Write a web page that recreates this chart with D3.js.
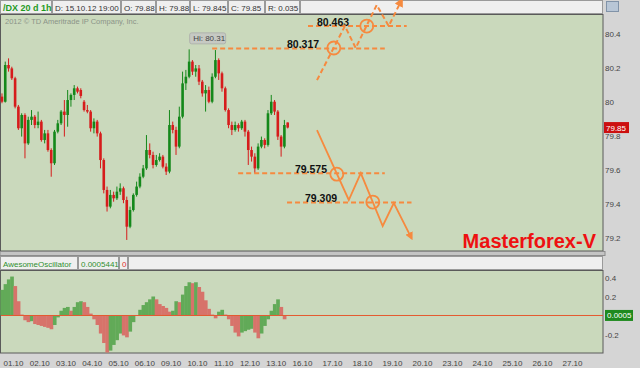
<!DOCTYPE html>
<html>
<head>
<meta charset="utf-8">
<script src="https://cdn.jsdelivr.net/npm/d3@7"></script>
<style>
  body { margin: 0; background: #d5d5d5; }
  svg { display: block; font-family: "Liberation Sans", Arial, sans-serif; }
</style>
</head>
<body>
<svg id="chart" width="640" height="368"></svg>
<script>
// candles, one every 3 hours
var opens = [80.032,80.002,80.218,80.198,80.140,79.973,79.846,79.924,79.757,79.895,
  79.914,79.865,79.885,79.777,79.816,79.718,79.640,79.826,79.875,79.944,
  79.924,80.012,80.042,80.081,80.071,80.002,79.953,79.944,79.846,79.885,
  79.816,79.659,79.483,79.385,79.454,79.434,79.473,79.493,79.424,79.267,
  79.365,79.454,79.503,79.561,79.610,79.718,79.689,79.630,79.659,79.679,
  79.620,79.591,79.865,79.836,79.738,79.914,80.110,80.149,80.238,80.179,
  80.198,80.120,80.051,80.071,80.002,80.149,80.247,80.169,80.081,79.953,
  79.865,79.836,79.865,79.846,79.885,79.826,79.718,79.679,79.610,79.738,
  79.777,79.748,79.934,80.002,79.944,79.797,79.738,79.88];
var highs = [80.051,80.238,80.257,80.208,80.149,79.983,79.934,79.934,79.914,79.953,
  79.924,79.944,79.895,79.836,79.836,79.728,79.836,79.895,79.953,80.012,
  80.071,80.051,80.100,80.091,80.081,80.012,79.983,79.953,79.904,79.895,
  79.826,79.669,79.503,79.483,79.473,79.503,79.522,79.503,79.444,79.385,
  79.463,79.532,79.581,79.630,79.806,79.757,79.708,79.689,79.699,79.689,
  79.640,79.953,79.885,79.855,79.973,80.179,80.189,80.31,80.247,80.218,
  80.218,80.130,80.100,80.091,80.169,80.306,80.257,80.179,80.091,79.963,
  79.885,79.885,79.875,79.895,79.895,79.836,79.738,79.699,79.757,79.797,
  79.787,79.953,80.042,80.012,79.953,79.806,79.895,79.88];
var lows = [79.993,79.997,80.179,80.130,79.963,79.836,79.797,79.669,79.748,79.865,
  79.846,79.846,79.767,79.757,79.708,79.561,79.630,79.816,79.865,79.797,
  79.855,79.973,80.012,80.051,80.022,79.944,79.934,79.826,79.816,79.797,
  79.610,79.463,79.356,79.375,79.414,79.424,79.454,79.405,79.189,79.258,
  79.356,79.444,79.493,79.552,79.601,79.669,79.610,79.620,79.650,79.610,
  79.571,79.581,79.816,79.689,79.728,79.904,80.071,80.140,80.159,80.149,
  80.100,80.032,79.944,79.993,79.993,80.140,80.130,80.061,79.944,79.846,
  79.806,79.826,79.826,79.836,79.797,79.630,79.650,79.581,79.601,79.728,
  79.728,79.738,79.924,79.924,79.777,79.679,79.728,79.845];
var closes = [80.002,80.218,80.198,80.140,79.973,79.846,79.924,79.757,79.895,79.914,
  79.865,79.885,79.777,79.816,79.718,79.640,79.826,79.875,79.944,79.924,
  80.012,80.042,80.081,80.061,80.036,79.953,79.944,79.846,79.885,79.816,
  79.659,79.483,79.385,79.454,79.434,79.473,79.493,79.424,79.267,79.365,
  79.454,79.503,79.561,79.610,79.718,79.689,79.630,79.659,79.679,79.620,
  79.591,79.865,79.836,79.738,79.914,80.110,80.149,80.238,80.179,80.198,
  80.120,80.051,80.071,80.002,80.149,80.247,80.169,80.081,79.953,79.865,
  79.836,79.865,79.846,79.885,79.826,79.718,79.679,79.610,79.738,79.777,
  79.748,79.934,80.002,79.944,79.797,79.738,79.865,79.85];

// awesome oscillator, one value per candle
var aoValues = [0.27,0.33,0.38,0.41,0.31,0.15,0.01,-0.05,-0.07,-0.06,
  -0.09,-0.10,-0.11,-0.12,-0.13,-0.145,-0.10,-0.02,0.05,0.08,
  0.09,0.05,0.09,0.14,0.15,0.14,0.09,0.02,-0.04,-0.10,
  -0.19,-0.29,-0.39,-0.37,-0.31,-0.26,-0.19,-0.21,-0.23,-0.17,
  -0.07,0.0,0.06,0.11,0.14,0.17,0.20,0.17,0.12,0.10,
  0.08,0.04,0.05,0.15,0.14,0.22,0.31,0.35,0.34,0.35,
  0.30,0.25,0.16,0.07,0.01,-0.03,0.04,0.06,0.01,-0.04,
  -0.11,-0.18,-0.22,-0.18,-0.165,-0.15,-0.14,-0.18,-0.24,-0.19,
  -0.11,-0.04,0.05,0.12,0.17,0.09,-0.04,0.0005];

var dayLabels = ["01.10","02.10","03.10","04.10","05.10","06.10","09.10","10.10","11.10","12.10","13.10",
  "16.10","17.10","18.10","19.10","20.10","23.10","24.10","25.10","26.10","27.10"];
var priceTicks = [80.4, 80.2, 80, 79.8, 79.6, 79.4, 79.2];
var aoTicks = [0.4, 0.2, -0.2];
var firstBarDay = -0.42, barsPerDay = 8;

// hand drawn levels: label text, price where the line sits, day span, label day
var levelText = ["80.463", "80.317", "79.575", "79.309"];
var levelAt = [80.447, 80.315, 79.581, 79.41];
var levelFrom = [11.2, 7.58, 8.57, 10.43];
var levelTo = [14.49, 13.76, 13.76, 14.65];
var levelLabelDay = [11.5, 10.43, 10.73, 11.1];

// scenario paths as [day, price]
var upPath = [[11.5,80.129],[12.43,80.447],[12.79,80.318],[13.49,80.571],[13.89,80.447],[14.32,80.6]];
var downPath = [[11.5,79.835],[12.56,79.424],[12.96,79.582],[13.69,79.271],[14.06,79.406],[14.65,79.2]];
var upCircles = [[12.06,80.318],[13.16,80.447]];
var downCircles = [[12.16,79.576],[13.36,79.412]];

var headerCells = [
  {x0: 0, x1: 52, text: "/DX 20 d 1h", color: "#1f9a1f", bold: true},
  {x0: 52, x1: 121, text: "D: 15.10.12 19:00", color: "#333"},
  {x0: 121, x1: 156, text: "O: 79.88", color: "#333"},
  {x0: 156, x1: 190, text: "H: 79.88", color: "#333"},
  {x0: 190, x1: 228, text: "L: 79.845", color: "#333"},
  {x0: 228, x1: 265, text: "C: 79.85", color: "#333"},
  {x0: 265, x1: 300, text: "R: 0.035", color: "#333"},
  {x0: 300, x1: 603, text: "", color: "#333"}
];
var aoCells = [
  {x0: 0, x1: 78, text: "AwesomeOscillator", color: "#2f8f2f"},
  {x0: 78, x1: 119, text: "0.0005441", color: "#2f8f2f"},
  {x0: 119, x1: 128, text: "0", color: "#e03030"},
  {x0: 128, x1: 603, text: "", color: "#333"}
];

var plotRight = 603;
var mainTop = 14, mainBottom = 251, aoTop = 270, aoBottom = 353;
var bg = "#cad9bc", orange = "#f68a3f";
var upColor = "#14881a", downColor = "#d61c1c";

var svg = d3.select("#chart");

// scales
var x = d3.scaleLinear().domain([0, 11, 20]).range([13, 302, 572]);
var y = d3.scaleLinear().domain([79.124, 80.518]).range([mainBottom, mainTop]);
var yAo = d3.scaleLinear().domain([-0.395, 0.479]).range([aoBottom, aoTop]);

function barX(i) { return x(firstBarDay + i / barsPerDay); }
var step = x(1 / barsPerDay) - x(0);

// header rows
function drawCells(cells, top, h) {
  var g = svg.append("g");
  cells.forEach(function(c) {
    g.append("rect")
      .attr("x", c.x0 + 0.5).attr("y", top + 0.5)
      .attr("width", c.x1 - c.x0 - 1).attr("height", h - 1)
      .attr("fill", "#efefef").attr("stroke", "#9a9a9a");
    g.append("text")
      .attr("x", c.x0 + 3).attr("y", top + h - 3.5)
      .attr("font-size", c.bold ? 9 : 8)
      .attr("font-weight", c.bold ? "bold" : "normal")
      .attr("fill", c.color)
      .text(c.text);
  });
}
drawCells(headerCells, 0, 14);

// panel backgrounds
svg.append("rect").attr("x", 0.5).attr("y", mainTop + 0.5)
  .attr("width", plotRight - 0.5).attr("height", mainBottom - mainTop - 0.5)
  .attr("fill", bg).attr("stroke", "#5a5a5a");
svg.append("rect").attr("x", 0).attr("y", 251.5).attr("width", plotRight + 2).attr("height", 4)
  .attr("fill", "#c4c4c4").attr("stroke", "#8c8c8c");
drawCells(aoCells, 256, 14);
svg.append("rect").attr("x", 0.5).attr("y", aoTop + 0.5)
  .attr("width", plotRight - 0.5).attr("height", aoBottom - aoTop - 0.5)
  .attr("fill", bg).attr("stroke", "#5a5a5a");

// small icon top right
svg.append("rect").attr("x", 606.5).attr("y", 1.5).attr("width", 12).attr("height", 10)
  .attr("fill", "#b8c6d6").attr("stroke", "#8193a8");

// copyright
svg.append("text").attr("x", 5).attr("y", 24)
  .attr("font-size", 7.5).attr("fill", "#8b9488")
  .text("2012 \u00a9 TD Ameritrade IP Company, Inc.");

// candles
var candles = svg.append("g");
closes.forEach(function(c, i) {
  var col = c >= opens[i] ? upColor : downColor;
  var cx = barX(i);
  candles.append("line")
    .attr("x1", cx).attr("x2", cx)
    .attr("y1", y(highs[i])).attr("y2", y(lows[i]))
    .attr("stroke", col).attr("stroke-width", 1);
  var top = y(Math.max(c, opens[i])), bot = y(Math.min(c, opens[i]));
  candles.append("rect")
    .attr("x", cx - 1.3).attr("width", 2.6)
    .attr("y", top).attr("height", Math.max(1, bot - top))
    .attr("fill", col);
});

// Hi label
var hiIdx = d3.maxIndex(highs);
var hiX = barX(hiIdx), hiY = y(highs[hiIdx]);
svg.append("rect").attr("x", hiX + 0.5).attr("y", hiY - 16.5)
  .attr("width", 36).attr("height", 11).attr("rx", 2)
  .attr("fill", "#c6c9c3").attr("stroke", "#b0b3ad");
svg.append("text").attr("x", hiX + 4).attr("y", hiY - 8)
  .attr("font-size", 8).attr("fill", "#444")
  .text("Hi: " + d3.format(".2f")(highs[hiIdx]));

// right price axis
var yAxis = d3.axisRight(y).tickValues(priceTicks).tickSize(0).tickPadding(2)
  .tickFormat(function(d) { return String(d); });
var gy = svg.append("g").attr("transform", "translate(" + plotRight + ",0)").call(yAxis);
gy.select(".domain").remove();
gy.selectAll("text").attr("font-size", 8).attr("fill", "#444").attr("font-family", null);

// last price tag
var last = closes[closes.length - 1];
svg.append("rect").attr("x", 604).attr("y", y(last) - 5.5).attr("width", 25).attr("height", 11)
  .attr("fill", "#cc1010");
svg.append("text").attr("x", 606).attr("y", y(last) + 3)
  .attr("font-size", 8).attr("fill", "#fff").text(d3.format(".2f")(last));

// watermark
svg.append("text").attr("x", 596).attr("y", 248)
  .attr("text-anchor", "end").attr("font-size", 20).attr("font-weight", "bold")
  .attr("fill", "#ee1111").text("Masterforex-V");

// awesome oscillator histogram
var aoG = svg.append("g");
aoValues.forEach(function(v, i) {
  var col = (i === 0 || v >= aoValues[i - 1]) ? "#62aa58" : "#d7736a";
  var y0 = yAo(0), y1 = yAo(v);
  aoG.append("rect")
    .attr("x", barX(i) - step / 2).attr("width", step + 0.4)
    .attr("y", Math.min(y0, y1)).attr("height", Math.abs(y1 - y0))
    .attr("fill", col);
});
svg.append("line").attr("x1", 1).attr("x2", plotRight)
  .attr("y1", yAo(0)).attr("y2", yAo(0))
  .attr("stroke", "#e45a30").attr("stroke-width", 1);

var aoAxis = d3.axisRight(yAo).tickValues(aoTicks).tickSize(0).tickPadding(2)
  .tickFormat(function(d) { return String(d); });
var ga = svg.append("g").attr("transform", "translate(" + plotRight + ",0)").call(aoAxis);
ga.select(".domain").remove();
ga.selectAll("text").attr("font-size", 8).attr("fill", "#444").attr("font-family", null);

var lastAo = aoValues[aoValues.length - 1];
svg.append("rect").attr("x", 605).attr("y", yAo(lastAo) - 5.5).attr("width", 28).attr("height", 11)
  .attr("fill", "#1e8a1e");
svg.append("text").attr("x", 607).attr("y", yAo(lastAo) + 3)
  .attr("font-size", 8).attr("fill", "#fff").text(d3.format(".4f")(lastAo));

// date axis
var xAxis = d3.axisBottom(x).tickValues(d3.range(dayLabels.length)).tickSize(0).tickPadding(7)
  .tickFormat(function(d) { return dayLabels[d]; });
var gx = svg.append("g").attr("transform", "translate(0," + aoBottom + ")").call(xAxis);
gx.select(".domain").remove();
gx.selectAll("text").attr("font-size", 8).attr("fill", "#444").attr("font-family", null);

// annotations
var defs = svg.append("defs");
defs.append("marker").attr("id", "arrow").attr("viewBox", "0 0 10 10")
  .attr("refX", 7).attr("refY", 5).attr("markerWidth", 4.5).attr("markerHeight", 4.5)
  .attr("orient", "auto")
  .append("path").attr("d", "M0,0L10,5L0,10z").attr("fill", orange);

var ann = svg.append("g");
levelText.forEach(function(t, i) {
  ann.append("line")
    .attr("x1", x(levelFrom[i])).attr("x2", x(levelTo[i]))
    .attr("y1", y(levelAt[i])).attr("y2", y(levelAt[i]))
    .attr("stroke", orange).attr("stroke-width", 2).attr("stroke-dasharray", "5,3");
  ann.append("text")
    .attr("x", x(levelLabelDay[i])).attr("y", y(levelAt[i]) - 0.5)
    .attr("font-size", 10.5).attr("font-weight", "bold").attr("fill", "#111")
    .text(t);
});

var line = d3.line()
  .x(function(d) { return x(d[0]); })
  .y(function(d) { return y(d[1]); });

ann.append("path").datum(upPath).attr("d", line)
  .attr("fill", "none").attr("stroke", orange).attr("stroke-width", 2)
  .attr("stroke-dasharray", "5,3").attr("marker-end", "url(#arrow)");
ann.append("path").datum(downPath).attr("d", line)
  .attr("fill", "none").attr("stroke", orange).attr("stroke-width", 1.8)
  .attr("marker-end", "url(#arrow)");

upCircles.concat(downCircles).forEach(function(c) {
  ann.append("circle").attr("cx", x(c[0])).attr("cy", y(c[1])).attr("r", 6.5)
    .attr("fill", "none").attr("stroke", orange).attr("stroke-width", 1.8);
});
</script>
</body>
</html>
